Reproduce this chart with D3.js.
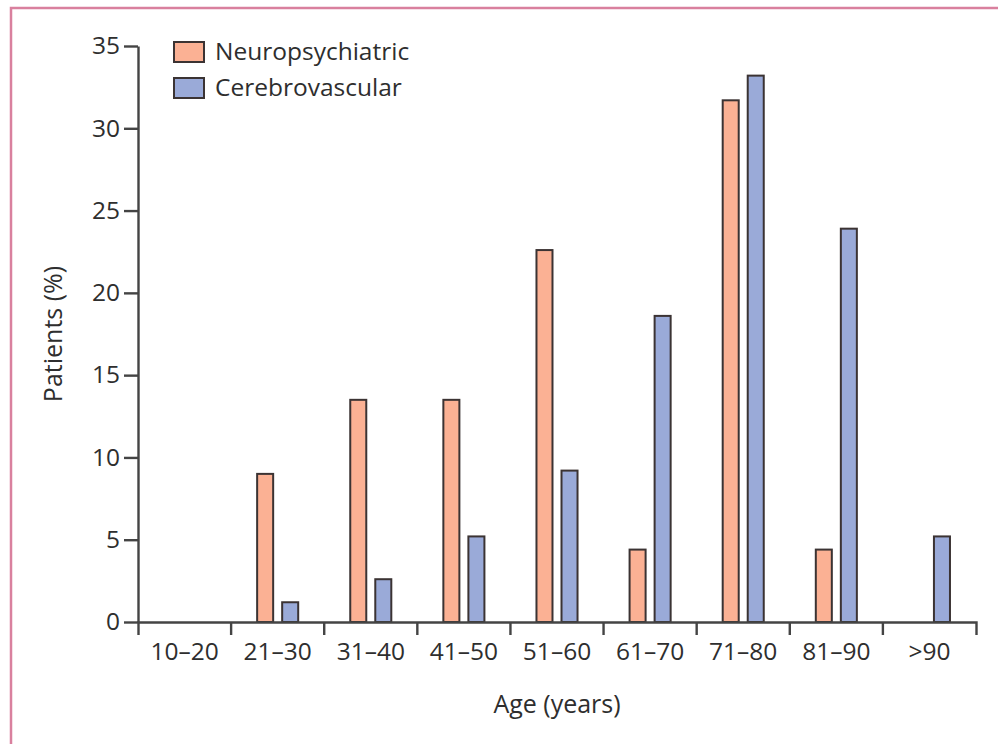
<!DOCTYPE html>
<html>
<head>
<meta charset="utf-8">
<script src="https://cdn.jsdelivr.net/npm/d3@7"></script>
<style>
  html, body { margin: 0; padding: 0; background: #fff; }
  svg { display: block; }
  text { font-family: "Open Sans", "Noto Sans", sans-serif; fill: #2e2e2e; font-weight: 500; }
</style>
</head>
<body>
<svg id="chart" width="998" height="744"></svg>
<script>
const categories = ["10–20", "21–30", "31–40", "41–50", "51–60", "61–70", "71–80", "81–90", ">90"];
const seriesNames = ["Neuropsychiatric", "Cerebrovascular"];
const neuropsychiatric = [0, 9.0, 13.5, 13.5, 22.6, 4.4, 31.7, 4.4, 0];
const cerebrovascular = [0, 1.2, 2.6, 5.2, 9.2, 18.6, 33.2, 23.9, 5.2];
const yTicks = [0, 5, 10, 15, 20, 25, 30, 35];
const colors = ["#fbb194", "#9aaad8"];

const svg = d3.select("#chart");
const FONT = '"Open Sans", "Noto Sans", sans-serif';

// frame
svg.append("rect")
  .attr("x", 11).attr("y", 8)
  .attr("width", 1010).attr("height", 760)
  .attr("fill", "none")
  .attr("stroke", "#d9809e")
  .attr("stroke-width", 2.5);

const x = d3.scaleBand().domain(categories).range([138, 976]).paddingInner(0).paddingOuter(0);
const xSub = d3.scaleBand().domain(seriesNames).range([0, x.bandwidth()]).paddingInner(0.28).paddingOuter(1);
const y = d3.scaleLinear().domain([0, 35]).range([622, 46]);

const seriesValues = [neuropsychiatric, cerebrovascular];
const data = [];
categories.forEach((c, i) => {
  seriesNames.forEach((s, j) => {
    data.push({ cat: c, series: s, value: seriesValues[j][i], color: colors[j] });
  });
});

// bars
svg.append("g").selectAll("rect")
  .data(data.filter(d => d.value > 0))
  .join("rect")
  .attr("x", d => x(d.cat) + xSub(d.series) + 1)
  .attr("y", d => y(d.value))
  .attr("width", xSub.bandwidth() - 2)
  .attr("height", d => y(0) - y(d.value))
  .attr("fill", d => d.color)
  .attr("stroke", "#3b3333")
  .attr("stroke-width", 2);

// y axis
const yAxis = svg.append("g")
  .attr("transform", "translate(138,0)")
  .call(d3.axisLeft(y).tickValues(yTicks).tickSize(14).tickSizeOuter(0).tickPadding(4));
yAxis.select(".domain").attr("stroke", "#444").attr("stroke-width", 2.4);
yAxis.selectAll(".tick line").attr("stroke", "#444").attr("stroke-width", 2.4);
yAxis.selectAll(".tick text")
  .style("font-family", FONT).style("font-weight", 500)
  .style("font-size", "24.5px").attr("fill", "#2e2e2e");

// x axis
const xAxis = svg.append("g")
  .attr("transform", "translate(0,622)")
  .call(d3.axisBottom(x).tickSize(0).tickSizeOuter(13).tickPadding(21));
xAxis.select(".domain").attr("stroke", "#444").attr("stroke-width", 2.4);
xAxis.selectAll(".tick text")
  .style("font-family", FONT).style("font-weight", 500)
  .style("font-size", "24.5px").attr("fill", "#2e2e2e");
xAxis.selectAll(".boundary")
  .data(categories.slice(1))
  .join("line")
  .attr("class", "boundary")
  .attr("x1", d => x(d)).attr("x2", d => x(d))
  .attr("y1", 0).attr("y2", 13)
  .attr("stroke", "#444").attr("stroke-width", 2.4);

// axis titles
svg.append("text")
  .attr("x", (x.range()[0] + x.range()[1]) / 2)
  .attr("y", 713)
  .attr("text-anchor", "middle")
  .style("font-size", "25px")
  .text("Age (years)");

svg.append("text")
  .attr("transform", `translate(62,${(y(0) + y(35)) / 2}) rotate(-90)`)
  .attr("text-anchor", "middle")
  .style("font-size", "25px")
  .text("Patients (%)");

// legend
const legend = svg.append("g");
seriesNames.forEach((s, i) => {
  const g = legend.append("g").attr("transform", `translate(174,${42 + i * 36})`);
  g.append("rect")
    .attr("width", 30).attr("height", 20)
    .attr("fill", colors[i])
    .attr("stroke", "#3b3333").attr("stroke-width", 2);
  g.append("text")
    .attr("x", 41).attr("y", 18)
    .style("font-size", "24.5px")
    .text(s);
});
</script>
</body>
</html>
